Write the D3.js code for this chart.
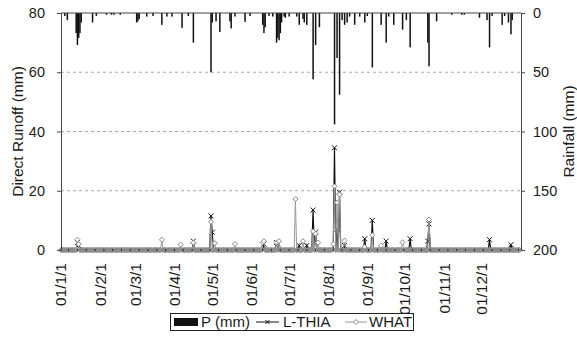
<!DOCTYPE html>
<html>
<head>
<meta charset="utf-8">
<script src="https://cdn.jsdelivr.net/npm/d3@7"></script>
<style>
  body { margin: 0; background: #fff; }
  svg { display: block; font-family: "Liberation Sans", Arial, sans-serif; }
</style>
</head>
<body>
<div id="chart"></div>
<script>
// daily rainfall (mm), only the rainy days
const rainDates = ["2001-01-04","2001-01-06","2001-01-13","2001-01-14","2001-01-15","2001-01-16","2001-01-17","2001-01-26","2001-01-29",
  "2001-02-06","2001-02-10","2001-02-12","2001-02-17","2001-03-02","2001-03-03","2001-03-04","2001-03-10","2001-03-15","2001-03-22",
  "2001-03-26","2001-03-30","2001-04-07","2001-04-12","2001-04-16","2001-04-30","2001-05-01","2001-05-04","2001-05-07","2001-05-15",
  "2001-05-16","2001-05-19","2001-05-27","2001-05-31","2001-06-10","2001-06-11","2001-06-12","2001-06-15","2001-06-18","2001-06-21",
  "2001-06-22","2001-06-23","2001-06-24","2001-06-25","2001-06-27","2001-06-28","2001-07-01","2001-07-07","2001-07-09","2001-07-12",
  "2001-07-13","2001-07-15","2001-07-20","2001-07-22","2001-07-25","2001-08-06","2001-08-08","2001-08-10","2001-08-12","2001-08-14",
  "2001-08-16","2001-08-18","2001-08-22","2001-08-26","2001-08-30","2001-09-01","2001-09-05","2001-09-12","2001-09-16","2001-09-18",
  "2001-09-22","2001-09-29","2001-10-02","2001-10-05","2001-10-19","2001-10-20","2001-10-26","2001-11-07","2001-11-15","2001-11-17",
  "2001-11-29","2001-12-05","2001-12-07","2001-12-09","2001-12-17","2001-12-19","2001-12-22","2001-12-24","2001-12-25"]
const rainValues = [2.5,6,17,27,21,17,8,8,2.5,
  1.5,1.5,1.5,1.5,8,7,5,3,2.5,10,
  3,3,12.5,2.5,25,50,8,7,16,7,
  13,3,7.5,2.5,10,17,12,2.5,3,25,
  21,23,17,8,3,4,3,3,10,5,
  8,10,56,27,12,94,38,69,6,10,
  8,3,10,3,8,2.5,46,10,25,3,
  10,14,6,29,25,45,7,1.5,1.5,1.5,
  4,6,29,2.5,10,2.5,8,18,6]

// direct runoff (mm), days with runoff
const lthiaDates = ["2001-01-14","2001-01-15","2001-04-16","2001-04-30","2001-05-01","2001-06-11","2001-06-21","2001-06-22","2001-07-09",
  "2001-07-15","2001-07-20","2001-07-22","2001-08-06","2001-08-08","2001-08-10","2001-08-14","2001-08-30","2001-09-05","2001-09-16",
  "2001-10-05","2001-10-19","2001-10-20","2001-12-07","2001-12-24"]
const lthiaValues = [2.5,1.5,3,11.5,6,2,2.5,2,1.5,
  1.5,13.5,6,34.5,7,19.5,1.5,3.8,10,3,
  3.8,3,8.8,3.5,1.8]

const whatDates = ["2001-01-14","2001-01-15","2001-03-22","2001-04-06","2001-04-16","2001-04-30","2001-05-03","2001-05-19","2001-06-10",
  "2001-06-11","2001-06-21","2001-06-23","2001-07-06","2001-07-12","2001-07-20","2001-07-22","2001-07-24","2001-08-05","2001-08-06",
  "2001-08-08","2001-08-10","2001-08-14","2001-08-30","2001-09-05","2001-09-12","2001-09-29","2001-10-20"]
const whatValues = [3.5,2,3.5,1.8,2.5,9.5,2.3,2,2.5,
  3,2.5,3,17.2,3,6.3,5.5,2.5,2,21.5,
  16,18.7,3.2,1,5,1.5,2.6,10.3]

const runoffTicks = [0, 20, 40, 60, 80]
const rainTicks = [0, 50, 100, 150, 200]

const W = 577, H = 347
const margin = {top: 13, right: 56, bottom: 97, left: 61}

const parse = d3.timeParse("%Y-%m-%d")
const start = parse("2001-01-01"), end = parse("2002-01-01")
const days = d3.timeDay.range(start, end)

function daily(dates, values) {
  const m = new Map(dates.map((d, i) => [d, values[i]]))
  const f = d3.timeFormat("%Y-%m-%d")
  return days.map(d => ({date: d, value: m.has(f(d)) ? m.get(f(d)) : 0}))
}
const lthia = daily(lthiaDates, lthiaValues)
const what = daily(whatDates, whatValues)
const rain = rainDates.map((d, i) => ({date: parse(d), value: rainValues[i]}))

const svg = d3.select("#chart").append("svg").attr("width", W).attr("height", H)

const x = d3.scaleTime().domain([start, end]).range([margin.left, W - margin.right])
const y = d3.scaleLinear().domain([0, 80]).range([H - margin.bottom, margin.top])
const yr = d3.scaleLinear().domain([0, 200]).range([margin.top, H - margin.bottom])

// grid lines
svg.append("g").selectAll("line")
  .data(runoffTicks.filter(t => t > 0 && t < 80))
  .join("line")
    .attr("x1", margin.left).attr("x2", W - margin.right)
    .attr("y1", d => y(d)).attr("y2", d => y(d))
    .attr("stroke", "#aaa").attr("stroke-dasharray", "3,3")

// rainfall bars hanging from the top
svg.append("g").selectAll("rect")
  .data(rain)
  .join("rect")
    .attr("x", d => x(d.date) - 0.7)
    .attr("width", 1.5)
    .attr("y", yr(0))
    .attr("height", d => yr(d.value) - yr(0))
    .attr("fill", "#111")

// top frame
svg.append("line")
  .attr("x1", margin.left).attr("x2", W - margin.right)
  .attr("y1", margin.top).attr("y2", margin.top)
  .attr("stroke", "#444")

const line = d3.line().x(d => x(d.date)).y(d => y(d.value))

// L-THIA
svg.append("path").datum(lthia)
  .attr("d", line).attr("fill", "none").attr("stroke", "#111").attr("stroke-width", 1.2)
svg.append("g").selectAll("path")
  .data(lthia.filter(d => d.value > 0))
  .join("path")
    .attr("transform", d => `translate(${x(d.date)},${y(d.value)})`)
    .attr("d", "M-2.5,-2.5L2.5,2.5M-2.5,2.5L2.5,-2.5")
    .attr("stroke", "#111").attr("fill", "none")

// WHAT
svg.append("path").datum(what)
  .attr("d", line).attr("fill", "none").attr("stroke", "#999").attr("stroke-width", 1)
svg.append("g").selectAll("path")
  .data(what)
  .join("path")
    .attr("transform", d => `translate(${x(d.date)},${y(d.value)})`)
    .attr("d", "M0,-2.5L2.5,0L0,2.5L-2.5,0Z")
    .attr("stroke", "#888").attr("fill", d => d.value > 0 ? "#fff" : "#999")

// little ticks along the baseline
svg.append("g").selectAll("line")
  .data(d3.timeWeek.range(start, end))
  .join("line")
    .attr("x1", d => x(d)).attr("x2", d => x(d))
    .attr("y1", y(0) - 1).attr("y2", y(0) + 1)
    .attr("stroke", "#222")

// axes
const axL = svg.append("g").attr("transform", `translate(${margin.left},0)`)
  .call(d3.axisLeft(y).tickValues(runoffTicks).tickSize(4).tickPadding(12))
const axR = svg.append("g").attr("transform", `translate(${W - margin.right},0)`)
  .call(d3.axisRight(yr).tickValues(rainTicks).tickSize(4).tickPadding(8))
for (const ax of [axL, axR]) {
  ax.selectAll("path, line").attr("stroke", "#444")
  ax.selectAll("text").attr("font-size", 14.5).attr("fill", "#1a1a1a")
    .attr("font-family", "Liberation Sans, Arial, sans-serif")
}

// month labels
const fmt = d3.timeFormat("%y/%-m/%-d")
svg.append("g").selectAll("text")
  .data(d3.timeMonth.range(start, end))
  .join("text")
    .attr("transform", d => `translate(${x(d)},263) rotate(-90)`)
    .attr("text-anchor", "end")
    .attr("dy", "0.35em")
    .attr("font-size", 15.5).attr("fill", "#1a1a1a")
    .text(fmt)

// axis titles
svg.append("text")
  .attr("transform", `translate(18,${(margin.top + H - margin.bottom) / 2}) rotate(-90)`)
  .attr("text-anchor", "middle").attr("dy", "0.35em")
  .attr("font-size", 15.5).attr("fill", "#1a1a1a")
  .text("Direct Runoff (mm)")
svg.append("text")
  .attr("transform", `translate(569,${(margin.top + H - margin.bottom) / 2}) rotate(-90)`)
  .attr("text-anchor", "middle").attr("dy", "0.35em")
  .attr("font-size", 15.5).attr("fill", "#1a1a1a")
  .text("Rainfall (mm)")

// legend
const lg = svg.append("g").attr("font-size", 15).attr("fill", "#1a1a1a")
lg.append("rect").attr("x", 170.5).attr("y", 313.5).attr("width", 243).attr("height", 17)
  .attr("fill", "#fff").attr("stroke", "#222")
lg.append("rect").attr("x", 174).attr("y", 318).attr("width", 24).attr("height", 8).attr("fill", "#111")
lg.append("text").attr("x", 201).attr("y", 322).attr("dy", "0.35em").text("P (mm)")
lg.append("line").attr("x1", 256).attr("x2", 279).attr("y1", 322).attr("y2", 322).attr("stroke", "#111")
lg.append("path").attr("transform", "translate(267.5,322)").attr("d", "M-2,-2L2,2M-2,2L2,-2").attr("stroke", "#111")
lg.append("text").attr("x", 283).attr("y", 322).attr("dy", "0.35em").text("L-THIA")
lg.append("line").attr("x1", 345).attr("x2", 367).attr("y1", 322).attr("y2", 322).attr("stroke", "#999")
lg.append("path").attr("transform", "translate(356,322)").attr("d", "M0,-2.5L2.5,0L0,2.5L-2.5,0Z")
  .attr("stroke", "#888").attr("fill", "#fff")
lg.append("text").attr("x", 369).attr("y", 322).attr("dy", "0.35em").text("WHAT")
</script>
</body>
</html>
